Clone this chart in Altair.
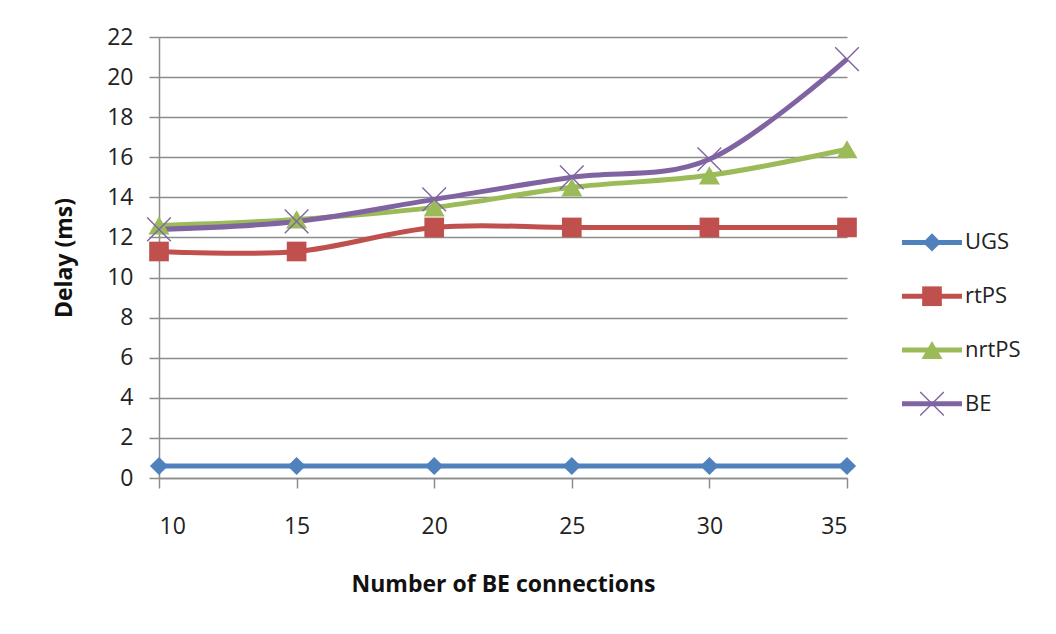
import altair as alt
import pandas as pd

connections = [10, 15, 20, 25, 30, 35]
series_names = ["UGS", "rtPS", "nrtPS", "BE"]
ugs = [0.6, 0.6, 0.6, 0.6, 0.6, 0.6]
rtps = [11.3, 11.3, 12.5, 12.5, 12.5, 12.5]
nrtps = [12.6, 12.9, 13.5, 14.5, 15.1, 16.4]
be = [12.4, 12.8, 13.9, 15.0, 15.9, 20.9]
y_ticks = list(range(0, 23, 2))

colors = ["#4F81BD", "#C0504D", "#9BBB59", "#8064A2"]
shapes = ["diamond", "square", "triangle-up", "cross"]
marker_sizes = [330, 500, 420, 500]

rows = []
for name, vals in zip(series_names, [ugs, rtps, nrtps, be]):
    for c, v in zip(connections, vals):
        rows.append({"conn": c, "delay": v, "series": name})
df = pd.DataFrame(rows)

color_scale = alt.Scale(domain=series_names, range=colors)
shape_scale = alt.Scale(domain=series_names, range=shapes)
size_scale = alt.Scale(domain=series_names, range=marker_sizes)
FONT = "Open Sans"
XPATH = "M-1,-1L1,1M-1,1L1,-1"

x_enc = alt.X("conn:Q", scale=alt.Scale(domain=[10, 35], nice=False, zero=False),
              axis=alt.Axis(values=connections, title="Number of BE connections",
                            grid=False, tickSize=10, labelPadding=27, titlePadding=35,
                            domainColor="#8c8c8c", tickColor="#8c8c8c",
                            domainWidth=1.5, tickWidth=1.5,
                            labelFont=FONT, labelFontSize=23, labelColor="#222",
                            titleFont=FONT, titleFontSize=23, titleFontWeight="bold",
                            titleColor="#111"))
y_enc = alt.Y("delay:Q", scale=alt.Scale(domain=[0, 22], nice=False),
              axis=alt.Axis(values=y_ticks, title="Delay (ms)", grid=True,
                            gridColor="#8c8c8c", gridWidth=1.5, tickSize=10,
                            tickColor="#8c8c8c", tickWidth=1.5,
                            domainColor="#8c8c8c", domainWidth=1.5, labelPadding=16,
                            labelFont=FONT, labelFontSize=23, labelColor="#222",
                            titleFont=FONT, titleFontSize=23, titleFontWeight="bold",
                            titleColor="#111", titlePadding=30))

base = alt.Chart(df)
lines = base.mark_line(interpolate="cardinal", strokeWidth=5).encode(
    x=x_enc, y=y_enc,
    color=alt.Color("series:N", scale=color_scale, legend=None),
    detail="series:N",
)
filled_pts = base.transform_filter(alt.datum.series != "BE").mark_point(
    filled=True, opacity=1, strokeWidth=0).encode(
    x="conn:Q", y="delay:Q",
    color=alt.Color("series:N", scale=color_scale, legend=None),
    shape=alt.Shape("series:N", scale=shape_scale, legend=None),
    size=alt.Size("series:N", scale=size_scale, legend=None),
)
cross_pts = base.transform_filter(alt.datum.series == "BE").mark_point(
    shape=XPATH, filled=False, opacity=1, strokeWidth=1.4, size=560,
    color="#8064A2").encode(x="conn:Q", y="delay:Q")

main = alt.layer(lines, filled_pts, cross_pts).properties(
    width=688, height=441, view=alt.ViewBackground(stroke=None))

# legend panel
leg_df = pd.DataFrame({"series": series_names, "idx": list(range(len(series_names)))})
leg_y = alt.Y("idx:Q", scale=alt.Scale(domain=[-3.82, 4.38], reverse=True, nice=False, zero=False), axis=None)
leg_base = alt.Chart(leg_df)
leg_rule = leg_base.mark_rule(strokeWidth=5).encode(
    x=alt.value(0), x2=alt.value(60), y=leg_y,
    color=alt.Color("series:N", scale=color_scale, legend=None))
leg_pts = leg_base.transform_filter(alt.datum.series != "BE").mark_point(
    filled=True, opacity=1, strokeWidth=0).encode(
    x=alt.value(30), y=leg_y,
    color=alt.Color("series:N", scale=color_scale, legend=None),
    shape=alt.Shape("series:N", scale=shape_scale, legend=None),
    size=alt.Size("series:N", scale=size_scale, legend=None))
leg_cross = leg_base.transform_filter(alt.datum.series == "BE").mark_point(
    shape=XPATH, filled=False, opacity=1, strokeWidth=1.4, size=560,
    color="#8064A2").encode(x=alt.value(30), y=leg_y)
leg_text = leg_base.mark_text(align="left", baseline="middle", font=FONT, fontSize=22,
                              color="#222").encode(x=alt.value(63), y=leg_y, text="series:N")
legend = alt.layer(leg_rule, leg_pts, leg_cross, leg_text).properties(
    width=120, height=441, view=alt.ViewBackground(stroke=None))

chart = alt.hconcat(main, legend, spacing=37).properties(
    padding={"left": 45, "top": 18, "right": 5, "bottom": 5}
).configure(background="white")

chart.save("out.html", embed_options={"renderer": "svg", "actions": False})
